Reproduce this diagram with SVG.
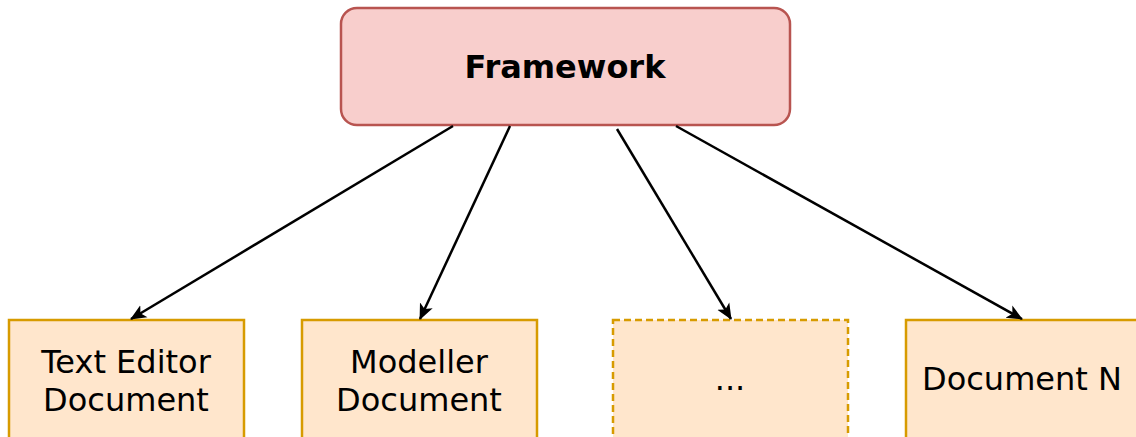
<svg xmlns="http://www.w3.org/2000/svg" width="1136" height="437" viewBox="0 0 1136 437">
  <defs>
    <marker id="arrow" viewBox="0 0 16 16" refX="15" refY="8" markerWidth="16" markerHeight="16" markerUnits="userSpaceOnUse" orient="auto">
      <path d="M0,1 L16,8 L0,15 L4,8 Z" fill="#000"/>
    </marker>
  </defs>
  <style>
    .root { fill: #f8cecc; stroke: #b85450; stroke-width: 2.5; }
    .doc { fill: #ffe6cc; stroke: #d79b00; stroke-width: 2.5; }
    .dashed { stroke-dasharray: 7 4; }
    .label { font-family: "DejaVu Sans", Verdana, sans-serif; font-size: 32px; fill: #000; text-anchor: middle; }
    .bold { font-weight: bold; font-size: 32px; }
    .edge { stroke: #000; stroke-width: 2.5; fill: none; marker-end: url(#arrow); }
  </style>
  <rect width="1136" height="437" fill="#fff"/>

  <g id="framework">
    <rect class="root" x="341" y="8" width="449" height="117" rx="16" ry="16"/>
    <text class="label bold" x="565" y="78">Framework</text>
  </g>

  <g id="text-editor-document">
    <rect class="doc" x="9" y="320" width="235" height="130"/>
    <text class="label" x="126" y="373">Text Editor</text>
    <text class="label" x="126" y="411">Document</text>
  </g>

  <g id="modeller-document">
    <rect class="doc" x="302" y="320" width="235" height="130"/>
    <text class="label" x="419" y="373">Modeller</text>
    <text class="label" x="419" y="411">Document</text>
  </g>

  <g id="more-documents">
    <rect class="doc dashed" x="613" y="320" width="235" height="130"/>
    <text class="label" x="730" y="390">...</text>
  </g>

  <g id="document-n">
    <rect class="doc" x="906" y="320" width="235" height="130"/>
    <text class="label" x="1022" y="390">Document N</text>
  </g>

  <g id="connectors">
    <line class="edge" x1="453" y1="126" x2="131" y2="319"/>
    <line class="edge" x1="510" y1="126" x2="420" y2="319"/>
    <line class="edge" x1="617" y1="129" x2="731" y2="319"/>
    <line class="edge" x1="676" y1="126" x2="1022" y2="319"/>
  </g>
</svg>
